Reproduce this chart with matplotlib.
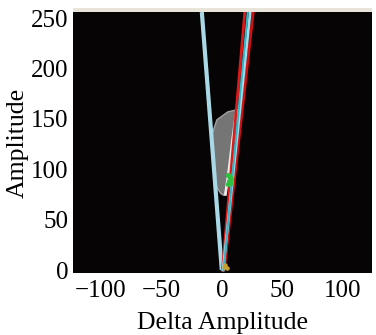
import matplotlib.pyplot as plt
from matplotlib.patches import Polygon, Rectangle

plt.rcParams['font.family'] = ['Liberation Serif', 'DejaVu Serif']

linie_links_x = [0, -16.5]
linie_links_y = [0, 256]
linie_rechts_x = [1, 23.5]
linie_rechts_y = [0, 256]
cyan_x = [1.5, 21.5]
cyan_y = [0, 256]
rot1_x = [0.5, 19]
rot1_y = [0, 256]
rot2_x = [2, 26]
rot2_y = [0, 256]

# Punktwolke (Umriss)
wolke_x = [12.4, 5, -4.1, -8.3, -7.5, -6.6, -5, -1, 1.7, 6.6, 9]
wolke_y = [159, 157, 149, 134, 120, 109, 84, 76, 74, 89, 120]
# helle Kante
kante_x = [12.4, 9, 6, 3]
kante_y = [159, 130, 100, 75]
# gruene Punkte
gruen_x = [5, 6, 7, 5.5, 8, 6.5]
gruen_y = [85, 88, 92, 94, 90, 86]
# Punkte unten
unten_x = [2, 3, 4]
unten_y = [3, 5, 2]

fig = plt.figure(figsize=(3.76, 3.35), dpi=100)
ax = fig.add_axes([0.194, 0.185, 0.795, 0.779])
ax.set_facecolor('#060404')

ax.add_patch(Polygon(list(zip(wolke_x, wolke_y)), closed=True,
                     facecolor='#8a8a8a', edgecolor='#b0b0b0', lw=1, alpha=0.85))
ax.plot(kante_x, kante_y, color='#e8e8e8', lw=2)
ax.plot(linie_links_x, linie_links_y, color='#a9d8e6', lw=3, solid_capstyle='butt')
ax.plot(rot1_x, rot1_y, color='#e01818', lw=2)
ax.plot(rot2_x, rot2_y, color='#d01010', lw=2)
ax.plot(linie_rechts_x, linie_rechts_y, color='#a9d8e6', lw=2)
ax.plot(cyan_x, cyan_y, color='#30b8c8', lw=1.5)
ax.scatter(gruen_x, gruen_y, color='#30c040', s=8, zorder=5)
ax.scatter(unten_x, unten_y, color='#c8a030', s=5, zorder=5)

ax.set_xlim(-123, 124)
ax.set_ylim(-3, 256)
ax.set_xticks([-100, -50, 0, 50, 100])
ax.set_yticks([0, 50, 100, 150, 200, 250])
ax.tick_params(length=0, labelsize=18, pad=3)
ax.tick_params(axis='x', pad=5)
for s in ax.spines.values():
    s.set_visible(False)
ax.set_xlabel('Delta Amplitude', fontsize=18.5, labelpad=7)
ax.set_ylabel('Amplitude', fontsize=18.5, labelpad=2)

# heller Rahmen oben
fig.patches.append(Rectangle((0.194, 0.964), 0.795, 0.012, transform=fig.transFigure,
                             facecolor='#e8e4da', edgecolor='none'))

fig.savefig('out.png', dpi=100)
